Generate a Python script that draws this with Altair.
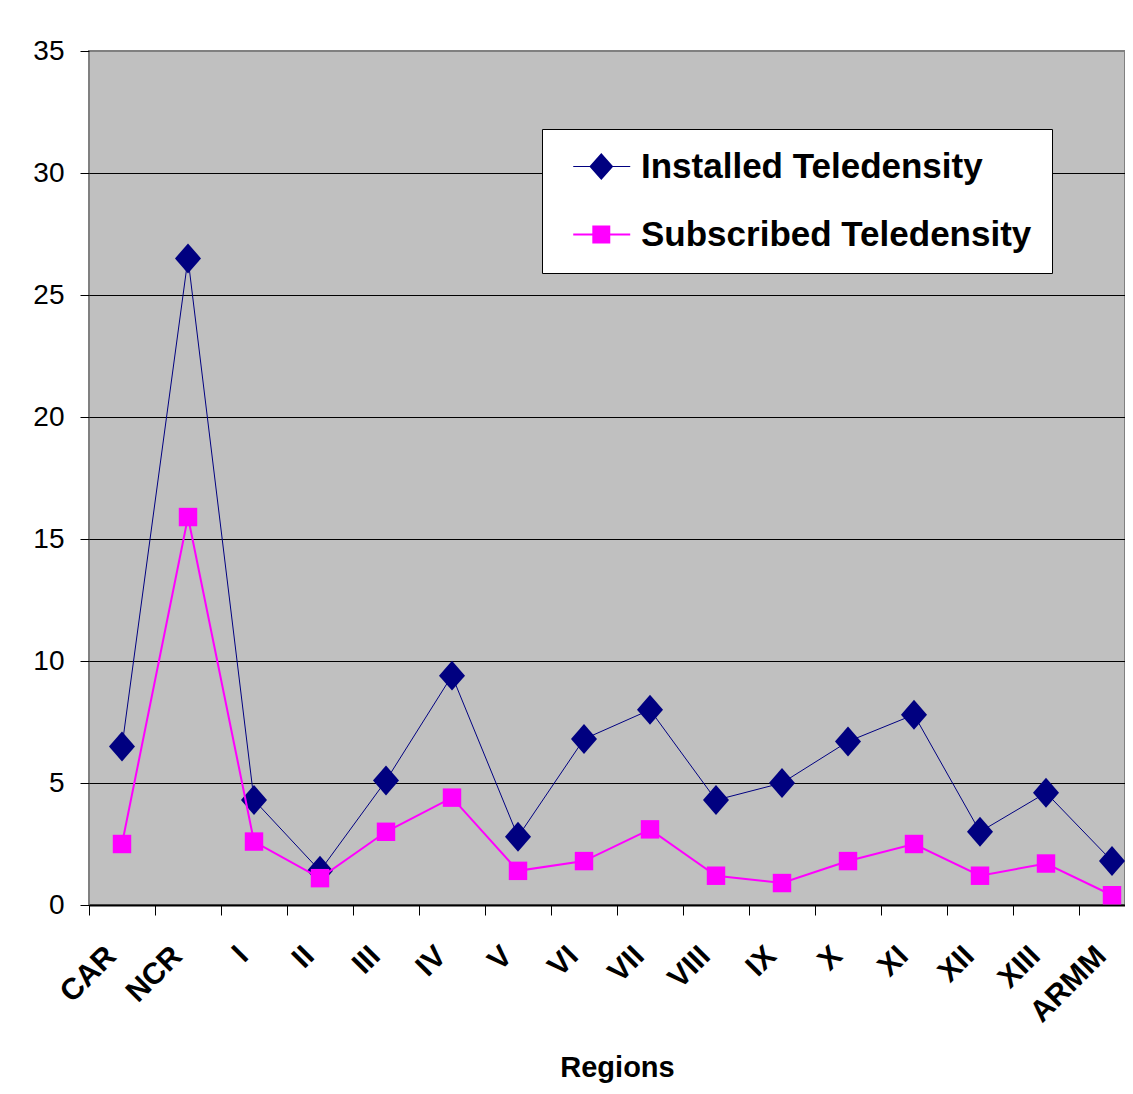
import altair as alt
import pandas as pd

regions = ["CAR", "NCR", "I", "II", "III", "IV", "V", "VI", "VII", "VIII",
           "IX", "X", "XI", "XII", "XIII", "ARMM"]
installed = [6.5, 26.5, 4.3, 1.4, 5.1, 9.4, 2.8, 6.8, 8.0, 4.3, 5.0, 6.7, 7.8, 3.0, 4.6, 1.8]
subscribed = [2.5, 15.9, 2.6, 1.1, 3.0, 4.4, 1.4, 1.8, 3.1, 1.2, 0.9, 1.8, 2.5, 1.2, 1.7, 0.4]
series_names = ["Installed Teledensity", "Subscribed Teledensity"]
series_colors = ["#000080", "#FF00FF"]
y_ticks = [0, 5, 10, 15, 20, 25, 30, 35]

df = pd.DataFrame({
    "Region": regions * 2,
    "Value": installed + subscribed,
    "Series": [series_names[0]] * len(regions) + [series_names[1]] * len(regions),
})

FONT = "Liberation Sans"

DIAMOND = "M0,-1.07L0.93,0L0,1.07L-0.93,0Z"
LEG_INST = "M-0.44,-0.04L3.56,-0.04L3.56,0.04L-0.44,0.04Z M1.53,-0.95L2.37,0L1.53,0.95L0.69,0Z"
LEG_SUB = "M-0.44,-0.07L3.56,-0.07L3.56,0.07L-0.44,0.07Z M0.9,-0.63L2.16,-0.63L2.16,0.63L0.9,0.63Z"

x_enc = alt.X(
    "Region:N",
    sort=regions,
    scale=alt.Scale(type="band", range=[0, 1056], paddingInner=0, paddingOuter=0),
    axis=alt.Axis(
        title="Regions",
        tickBand="extent",
        labelAngle=315,
        labelAlign="right",
        labelBaseline="middle",
        labelFont=FONT,
        labelFontSize=30,
        labelFontWeight="bold",
        labelColor="black",
        labelPadding=36,
        labelOffset=-11,
        labelOverlap=False,
        labelBound=False,
        tickSize=10,
        tickColor="black",
        tickWidth=1,
        domainColor="black",
        domainWidth=2,
        grid=False,
        titleX=528,
        titleY=171,
        titleAlign="center",
        titleBaseline="alphabetic",
        titleFont=FONT,
        titleFontSize=29,
        titleFontWeight="bold",
        titleColor="black",
    ),
)

y_enc = alt.Y(
    "Value:Q",
    scale=alt.Scale(domain=[0, 35], nice=False, zero=True),
    axis=alt.Axis(
        values=y_ticks,
        title=None,
        labelFont=FONT,
        labelFontSize=28,
        labelColor="black",
        labelPadding=16,
        tickSize=9,
        tickColor="black",
        domain=False,
        grid=True,
        gridColor={"condition": {"test": "datum.value === 35", "value": "#808080"}, "value": "black"},
        gridWidth=1,
        gridOpacity=1,
    ),
)

base = alt.Chart(df)

inst = base.transform_filter(alt.datum.Series == series_names[0])
sub = base.transform_filter(alt.datum.Series == series_names[1])

inst_line = inst.mark_line(color=series_colors[0], strokeWidth=1).encode(x=x_enc, y=y_enc)
inst_pts = inst.mark_point(shape=DIAMOND, filled=True, size=784, color=series_colors[0],
                           opacity=1, strokeWidth=0).encode(x=x_enc, y=y_enc)
sub_line = sub.mark_line(color=series_colors[1], strokeWidth=2).encode(x=x_enc, y=y_enc)
sub_pts = sub.mark_point(shape="square", filled=True, size=340, color=series_colors[1],
                         opacity=1, strokeWidth=0).encode(x=x_enc, y=y_enc)

leg = alt.Legend(title=None, labelExpr="datum.label + '\u00a0'")

legend_layer = base.transform_filter("false").mark_point(filled=True, strokeWidth=0, opacity=1).encode(
    x=x_enc,
    y=y_enc,
    color=alt.Color("Series:N", scale=alt.Scale(domain=series_names, range=series_colors),
                    legend=leg),
    shape=alt.Shape("Series:N", scale=alt.Scale(domain=series_names, range=[LEG_INST, LEG_SUB]),
                    legend=leg),
)

chart = alt.layer(inst_line, inst_pts, sub_line, sub_pts, legend_layer).properties(
    width=1036,
    height=854,
    autosize=alt.AutoSizeParams(type="none"),
    padding={"left": 81, "top": 43, "right": 0, "bottom": 181},
    background="white",
).configure_view(
    fill="#C0C0C0",
    stroke="#808080",
    strokeWidth=2,
).configure_legend(
    orient="none",
    legendX=453,
    legendY=78,
    fillColor="white",
    strokeColor="black",
    padding=20,
    symbolSize=812,
    symbolStrokeWidth=0,
    symbolOpacity=1,
    labelFont=FONT,
    labelFontSize=35,
    labelFontWeight="bold",
    labelColor="black",
    labelOffset=44,
    labelLimit=800,
    rowPadding=32,
)

chart.save("out.html", embed_options={"renderer": "svg", "actions": False})
